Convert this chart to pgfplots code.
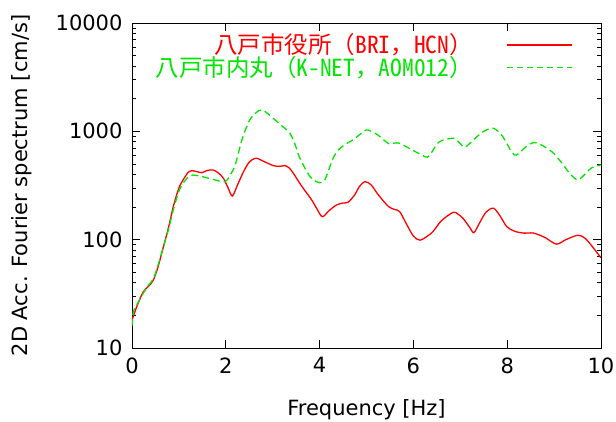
\documentclass[border=0pt]{standalone}
\usepackage{fontspec}
\setmainfont{DejaVu Sans}
\newfontfamily\jp{Noto Sans CJK JP}
\newfontfamily\jph{Noto Sans CJK JP}[RawFeature=+hwid]
\usepackage{pgfplots}
\pgfplotsset{compat=1.18}

\definecolor{gpred}{RGB}{255,0,0}
\definecolor{gpgreen}{RGB}{0,230,0}

\pgfplotstableread{
f a
0 18
0.1 24
0.24 33
0.35 37
0.45 42
0.55 55
0.67 86
0.78 130
0.88 202
1.0 300
1.09 356
1.2 420
1.27 434
1.38 425
1.49 415
1.6 435
1.73 440
1.85 410
1.95 369
2.05 300
2.14 253
2.25 320
2.38 426
2.5 520
2.64 565
2.8 530
3.01 483
3.15 475
3.26 483
3.35 460
3.44 411
3.6 320
3.83 233
3.95 190
4.06 163
4.2 185
4.36 209
4.5 218
4.61 222
4.75 260
4.85 310
4.97 343
5.1 320
5.25 260
5.47 202
5.6 190
5.71 181
5.85 140
6.0 108
6.14 99
6.3 108
6.42 119
6.6 150
6.85 179
6.95 172
7.06 157
7.2 130
7.29 116
7.4 140
7.55 180
7.71 195
7.85 165
7.99 132
8.15 120
8.34 115
8.56 115
8.8 105
9.05 91
9.25 100
9.51 110
9.66 103
9.8 88
10 68
}\hcn

\pgfplotstableread{
f a
0 16
0.03 22
0.1 25
0.24 32
0.35 38
0.45 43
0.55 57
0.67 86
0.78 125
0.88 188
1.0 280
1.09 331
1.2 380
1.3 395
1.5 382
1.73 360
1.98 343
2.1 400
2.2 490
2.35 850
2.5 1250
2.64 1480
2.78 1577
3.01 1320
3.2 1120
3.37 955
3.48 750
3.58 565
3.8 380
3.99 336
4.1 350
4.18 425
4.3 580
4.4 673
4.55 760
4.71 832
4.85 930
5.0 1030
5.1 1000
5.25 920
5.47 770
5.6 780
5.71 776
5.9 700
6.1 630
6.3 577
6.4 650
6.55 800
6.85 863
7.0 770
7.1 713
7.3 850
7.5 1000
7.71 1067
7.9 900
8.1 640
8.2 605
8.4 720
8.55 787
8.7 760
8.95 650
9.15 520
9.35 400
9.5 356
9.6 380
9.8 460
10 490
}\aom

\begin{document}
\begin{tikzpicture}
\useasboundingbox (-132pt,-73pt) rectangle (484pt,348pt);
\begin{axis}[
    at={(0,0)}, anchor=south west,
    scale only axis,
    width=469pt, height=325pt,
    xmin=0, xmax=10,
    ymode=log, ymin=10, ymax=10000,
    xtick={0,2,4,6,8,10},
    ytick={10,100,1000,10000},
    log ticks with fixed point,
    /pgf/number format/assume math mode=true,
    /pgf/number format/1000 sep={},
    tick align=inside,
    tick pos=both,
    major tick length=8pt,
    minor tick length=4pt,
    tick style={black, line width=0.8pt},
    axis line style={line width=0.8pt},
    tick label style={font=\fontsize{21}{25}\selectfont},
    xticklabel style={yshift=-6pt},
    yticklabel style={xshift=-6pt},
    xlabel={Frequency [Hz]},
    ylabel={2D Acc. Fourier spectrum [cm/s]},
    label style={font=\fontsize{21}{25}\selectfont},
    xlabel style={at={(axis description cs:0.5,0)}, anchor=base, yshift=-67pt},
    ylabel style={at={(axis description cs:-0.2345,0.50)}, anchor=center},
]
\addplot[gpred, line width=1.3pt, smooth] table[x=f, y=a] {\hcn};
\addplot[gpgreen, line width=1.3pt, dash pattern=on 7pt off 4pt, smooth] table[x=f, y=a] {\aom};

% key, gnuplot style: text right-aligned, line sample to its right
\node[anchor=east, inner sep=0pt, text=gpred, font=\jp\fontsize{23.5}{25}\selectfont]
    at (axis description cs:0.727,0.932) {八戸市役所（{\jph BRI}，{\jph HCN}）};
\draw[gpred, line width=1.3pt]
    (axis description cs:0.80,0.932) -- (axis description cs:0.938,0.932);
\node[anchor=east, inner sep=0pt, text=gpgreen, font=\jp\fontsize{23.5}{25}\selectfont]
    at (axis description cs:0.727,0.862) {八戸市内丸（{\jph K-NET}，{\jph AOM012}）};
\draw[gpgreen, line width=1.3pt, dash pattern=on 6pt off 4pt]
    (axis description cs:0.80,0.862) -- (axis description cs:0.938,0.862);
\end{axis}
\end{tikzpicture}
\end{document}
